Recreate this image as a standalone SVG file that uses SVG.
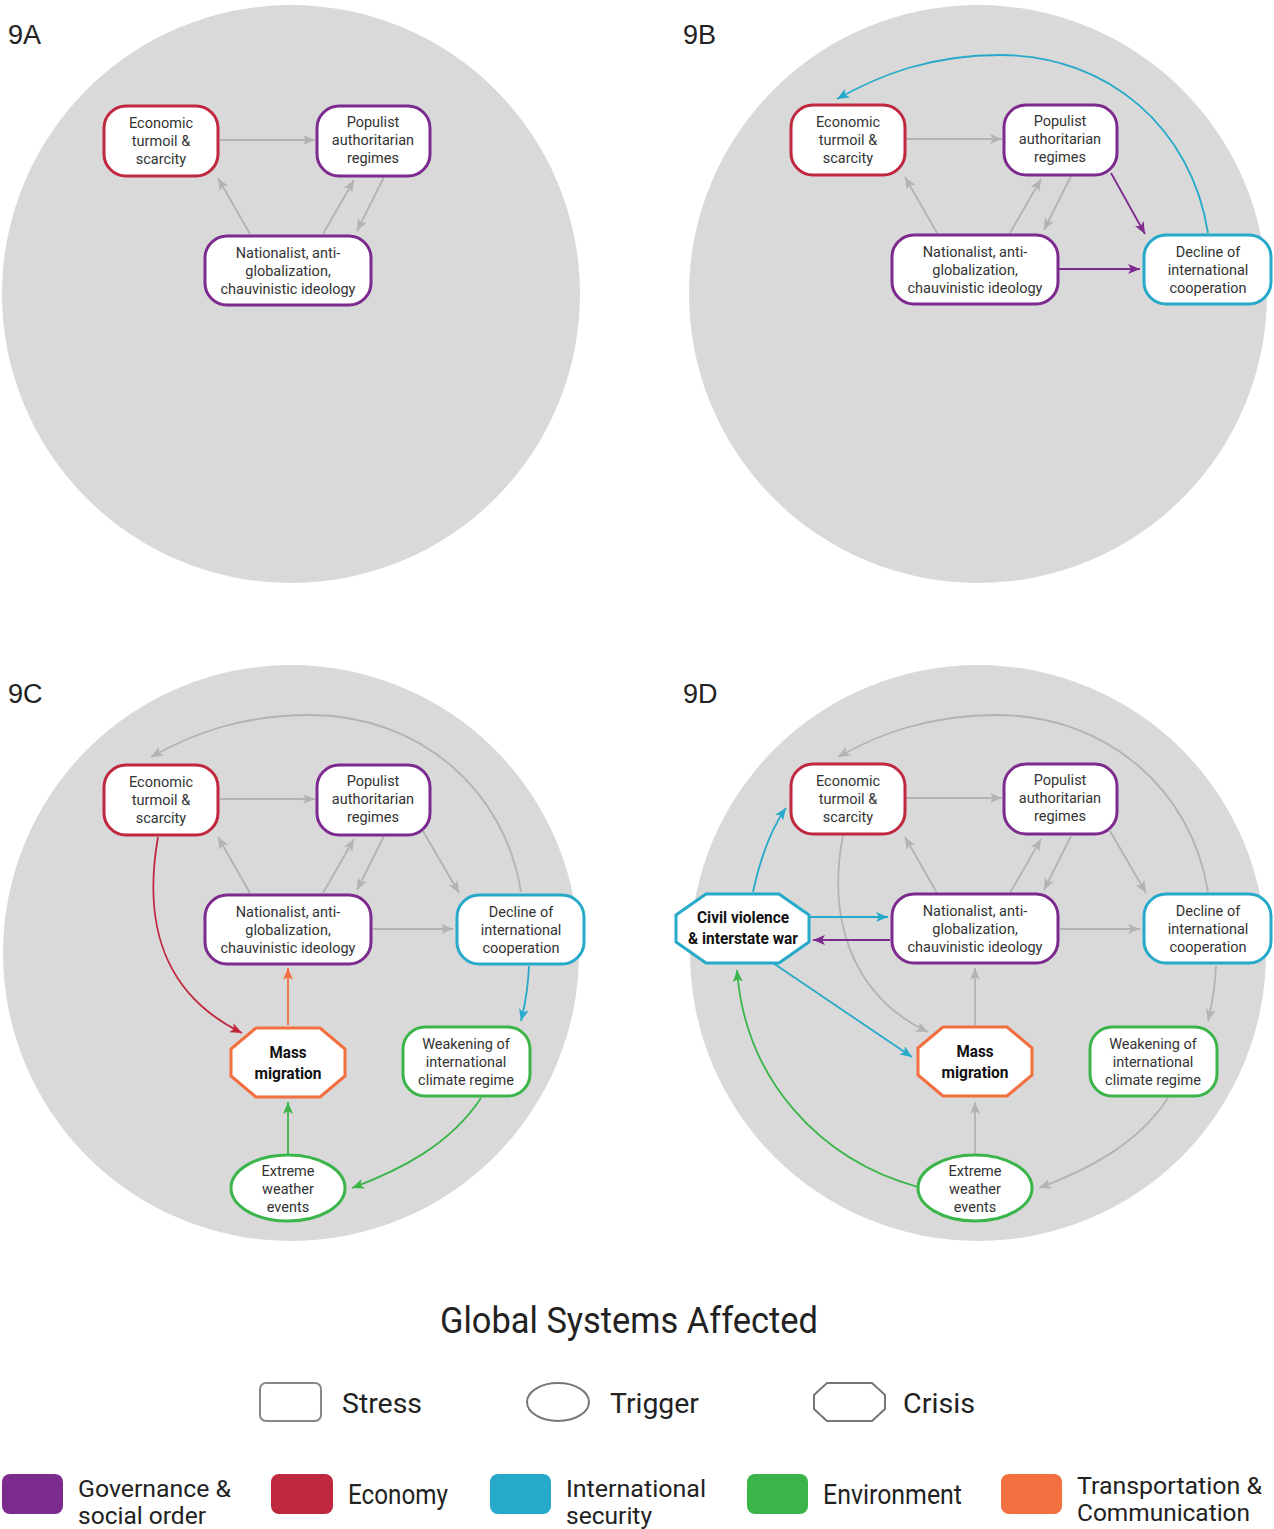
<svg xmlns="http://www.w3.org/2000/svg" width="1274" height="1529" viewBox="0 0 1274 1529">
<defs>
<style>
.bg{fill:#d9d9d9}
.nd{fill:#fff;stroke-width:3}
.pu{stroke:#7d2a8e}.rd{stroke:#c0283f}.bl{stroke:#27a9c9}.gn{stroke:#3bb54a}.or{stroke:#f26f3f}
.t{font-family:Roboto,"Liberation Sans",sans-serif;font-size:14.5px;fill:#333;text-anchor:middle}
.tb{font-family:Roboto,"Liberation Sans",sans-serif;font-size:17px;font-weight:bold;fill:#111;text-anchor:middle}
.pl{font-family:"Liberation Sans",Arial,sans-serif;font-size:27px;fill:#222}
.c{fill:none;stroke-width:1.8}
.cg{stroke:#b3b3b3}.cp{stroke:#7d2a8e}.cb{stroke:#27a9c9}.cr{stroke:#c0283f}.cgn{stroke:#3bb54a}.co{stroke:#f26f3f}
.lg{font-family:Roboto,"Liberation Sans",sans-serif;font-size:27px;fill:#222}
.lg2{font-family:Roboto,"Liberation Sans",sans-serif;font-size:24px;fill:#222}
</style>
<marker id="ag" viewBox="0 0 12 10" refX="12" refY="5" markerWidth="12" markerHeight="10" orient="auto" markerUnits="userSpaceOnUse"><path d="M0,0 L12,5 L0,10 L3,5 z" fill="#b3b3b3"/></marker>
<marker id="ap" viewBox="0 0 12 10" refX="12" refY="5" markerWidth="12" markerHeight="10" orient="auto" markerUnits="userSpaceOnUse"><path d="M0,0 L12,5 L0,10 L3,5 z" fill="#7d2a8e"/></marker>
<marker id="ab" viewBox="0 0 12 10" refX="12" refY="5" markerWidth="12" markerHeight="10" orient="auto" markerUnits="userSpaceOnUse"><path d="M0,0 L12,5 L0,10 L3,5 z" fill="#27a9c9"/></marker>
<marker id="ar" viewBox="0 0 12 10" refX="12" refY="5" markerWidth="12" markerHeight="10" orient="auto" markerUnits="userSpaceOnUse"><path d="M0,0 L12,5 L0,10 L3,5 z" fill="#c0283f"/></marker>
<marker id="agn" viewBox="0 0 12 10" refX="12" refY="5" markerWidth="12" markerHeight="10" orient="auto" markerUnits="userSpaceOnUse"><path d="M0,0 L12,5 L0,10 L3,5 z" fill="#3bb54a"/></marker>
<marker id="ao" viewBox="0 0 12 10" refX="12" refY="5" markerWidth="12" markerHeight="10" orient="auto" markerUnits="userSpaceOnUse"><path d="M0,0 L12,5 L0,10 L3,5 z" fill="#f26f3f"/></marker>
</defs>
<rect width="1274" height="1529" fill="#fff"/>

<!-- background circles -->
<g id="backgrounds">
<circle class="bg" cx="291" cy="294" r="289"/>
<circle class="bg" cx="978" cy="294" r="289"/>
<circle class="bg" cx="291" cy="953" r="288"/>
<circle class="bg" cx="978" cy="953" r="288"/>
</g>
<g id="panel-labels">
<text class="pl" x="8" y="44">9A</text>
<text class="pl" x="683" y="44">9B</text>
<text class="pl" x="8" y="703">9C</text>
<text class="pl" x="683" y="703">9D</text>
</g>

<!-- connectors -->
<g id="connectors">
<!-- 9A -->
<line class="c cg" x1="220" y1="140" x2="315" y2="140" marker-end="url(#ag)"/>
<line class="c cg" x1="250" y1="234" x2="218" y2="178" marker-end="url(#ag)"/>
<line class="c cg" x1="323" y1="234" x2="354" y2="180" marker-end="url(#ag)"/>
<line class="c cg" x1="384" y1="177" x2="357" y2="231" marker-end="url(#ag)"/>
<!-- 9B -->
<line class="c cg" x1="906" y1="139" x2="1002" y2="139" marker-end="url(#ag)"/>
<line class="c cg" x1="937" y1="233" x2="905" y2="177" marker-end="url(#ag)"/>
<line class="c cg" x1="1010" y1="233" x2="1041" y2="179" marker-end="url(#ag)"/>
<line class="c cg" x1="1071" y1="176" x2="1044" y2="230" marker-end="url(#ag)"/>
<line class="c cp" x1="1111" y1="173" x2="1145" y2="234" marker-end="url(#ap)"/>
<line class="c cp" x1="1059" y1="269" x2="1140" y2="269" marker-end="url(#ap)"/>
<path class="c cb" d="M1208,233 C1192,130 1110,55 1000,55 C930,55 880,75 837,99" marker-end="url(#ab)"/>
<!-- 9C -->
<line class="c cg" x1="220" y1="799" x2="315" y2="799" marker-end="url(#ag)"/>
<line class="c cg" x1="250" y1="893" x2="218" y2="837" marker-end="url(#ag)"/>
<line class="c cg" x1="323" y1="893" x2="354" y2="839" marker-end="url(#ag)"/>
<line class="c cg" x1="384" y1="836" x2="357" y2="890" marker-end="url(#ag)"/>
<line class="c cg" x1="423" y1="831" x2="459" y2="893" marker-end="url(#ag)"/>
<line class="c cg" x1="373" y1="929" x2="453" y2="929" marker-end="url(#ag)"/>
<path class="c cg" d="M521,892 C505,790 420,715 310,715 C240,715 190,735 151,757" marker-end="url(#ag)"/>
<path class="c cr" d="M158,837 C140,940 175,1000 242,1033" marker-end="url(#ar)"/>
<line class="c co" x1="288" y1="1025" x2="288" y2="968" marker-end="url(#ao)"/>
<path class="c cb" d="M529,966 C528,990 525,1005 521,1021" marker-end="url(#ab)"/>
<path class="c cgn" d="M481,1098 C450,1145 400,1170 352,1188" marker-end="url(#agn)"/>
<line class="c cgn" x1="288" y1="1155" x2="288" y2="1102" marker-end="url(#agn)"/>
<!-- 9D -->
<line class="c cg" x1="906" y1="798" x2="1002" y2="798" marker-end="url(#ag)"/>
<line class="c cg" x1="937" y1="893" x2="905" y2="837" marker-end="url(#ag)"/>
<line class="c cg" x1="1010" y1="893" x2="1041" y2="839" marker-end="url(#ag)"/>
<line class="c cg" x1="1071" y1="836" x2="1044" y2="890" marker-end="url(#ag)"/>
<line class="c cg" x1="1110" y1="831" x2="1146" y2="893" marker-end="url(#ag)"/>
<line class="c cg" x1="1060" y1="929" x2="1140" y2="929" marker-end="url(#ag)"/>
<path class="c cg" d="M1208,892 C1192,790 1107,715 997,715 C927,715 877,735 838,757" marker-end="url(#ag)"/>
<path class="c cg" d="M843,835 C825,930 860,1000 928,1032" marker-end="url(#ag)"/>
<line class="c cg" x1="975" y1="1025" x2="975" y2="968" marker-end="url(#ag)"/>
<path class="c cg" d="M1216,966 C1215,990 1212,1005 1208,1021" marker-end="url(#ag)"/>
<path class="c cg" d="M1168,1098 C1137,1145 1087,1170 1039,1188" marker-end="url(#ag)"/>
<line class="c cg" x1="975" y1="1155" x2="975" y2="1102" marker-end="url(#ag)"/>
<path class="c cgn" d="M918,1187 C820,1160 745,1080 737,970" marker-end="url(#agn)"/>
<path class="c cb" d="M753,892 C760,860 770,830 786,808" marker-end="url(#ab)"/>
<line class="c cb" x1="810" y1="917" x2="888" y2="917" marker-end="url(#ab)"/>
<line class="c cp" x1="890" y1="940" x2="813" y2="940" marker-end="url(#ap)"/>
<line class="c cb" x1="773" y1="963" x2="912" y2="1057" marker-end="url(#ab)"/>
</g>

<!-- 9A nodes -->
<g id="a-economic"><rect class="nd rd" x="104" y="106" width="114" height="70" rx="22"/><text class="t" x="161" y="128">Economic</text><text class="t" x="161" y="146">turmoil &amp;</text><text class="t" x="161" y="164">scarcity</text></g>
<g id="a-populist"><rect class="nd pu" x="317" y="106" width="113" height="70" rx="22"/><text class="t" x="373" y="127">Populist</text><text class="t" x="373" y="145">authoritarian</text><text class="t" x="373" y="163">regimes</text></g>
<g id="a-nationalist"><rect class="nd pu" x="205" y="236" width="166" height="69" rx="22"/><text class="t" x="288" y="258">Nationalist, anti-</text><text class="t" x="288" y="276">globalization,</text><text class="t" x="288" y="294">chauvinistic ideology</text></g>

<!-- 9B nodes -->
<g id="b-economic"><rect class="nd rd" x="791" y="105" width="114" height="70" rx="22"/><text class="t" x="848" y="127">Economic</text><text class="t" x="848" y="145">turmoil &amp;</text><text class="t" x="848" y="163">scarcity</text></g>
<g id="b-populist"><rect class="nd pu" x="1004" y="105" width="113" height="70" rx="22"/><text class="t" x="1060" y="126">Populist</text><text class="t" x="1060" y="144">authoritarian</text><text class="t" x="1060" y="162">regimes</text></g>
<g id="b-nationalist"><rect class="nd pu" x="892" y="235" width="166" height="69" rx="22"/><text class="t" x="975" y="257">Nationalist, anti-</text><text class="t" x="975" y="275">globalization,</text><text class="t" x="975" y="293">chauvinistic ideology</text></g>
<g id="b-decline"><rect class="nd bl" x="1144" y="235" width="127" height="69" rx="22"/><text class="t" x="1208" y="257">Decline of</text><text class="t" x="1208" y="275">international</text><text class="t" x="1208" y="293">cooperation</text></g>

<!-- 9C nodes -->
<g id="c-economic"><rect class="nd rd" x="104" y="765" width="114" height="70" rx="22"/><text class="t" x="161" y="787">Economic</text><text class="t" x="161" y="805">turmoil &amp;</text><text class="t" x="161" y="823">scarcity</text></g>
<g id="c-populist"><rect class="nd pu" x="317" y="765" width="113" height="70" rx="22"/><text class="t" x="373" y="786">Populist</text><text class="t" x="373" y="804">authoritarian</text><text class="t" x="373" y="822">regimes</text></g>
<g id="c-nationalist"><rect class="nd pu" x="205" y="895" width="166" height="69" rx="22"/><text class="t" x="288" y="917">Nationalist, anti-</text><text class="t" x="288" y="935">globalization,</text><text class="t" x="288" y="953">chauvinistic ideology</text></g>
<g id="c-decline"><rect class="nd bl" x="457" y="895" width="127" height="69" rx="22"/><text class="t" x="521" y="917">Decline of</text><text class="t" x="521" y="935">international</text><text class="t" x="521" y="953">cooperation</text></g>
<g id="c-mass"><polygon class="nd or" stroke-linejoin="round" points="256,1028 320,1028 345,1049 345,1076 320,1097 256,1097 231,1076 231,1049"/><text class="tb" x="288" y="1058" textLength="37" lengthAdjust="spacingAndGlyphs">Mass</text><text class="tb" x="288" y="1079" textLength="67" lengthAdjust="spacingAndGlyphs">migration</text></g>
<g id="c-weakening"><rect class="nd gn" x="403" y="1027" width="127" height="69" rx="22"/><text class="t" x="466" y="1049">Weakening of</text><text class="t" x="466" y="1067">international</text><text class="t" x="466" y="1085">climate regime</text></g>
<g id="c-extreme"><ellipse class="nd gn" cx="288" cy="1188" rx="57" ry="33"/><text class="t" x="288" y="1176">Extreme</text><text class="t" x="288" y="1194">weather</text><text class="t" x="288" y="1212">events</text></g>

<!-- 9D nodes -->
<g id="d-economic"><rect class="nd rd" x="791" y="764" width="114" height="70" rx="22"/><text class="t" x="848" y="786">Economic</text><text class="t" x="848" y="804">turmoil &amp;</text><text class="t" x="848" y="822">scarcity</text></g>
<g id="d-populist"><rect class="nd pu" x="1004" y="764" width="113" height="70" rx="22"/><text class="t" x="1060" y="785">Populist</text><text class="t" x="1060" y="803">authoritarian</text><text class="t" x="1060" y="821">regimes</text></g>
<g id="d-nationalist"><rect class="nd pu" x="892" y="894" width="166" height="69" rx="22"/><text class="t" x="975" y="916">Nationalist, anti-</text><text class="t" x="975" y="934">globalization,</text><text class="t" x="975" y="952">chauvinistic ideology</text></g>
<g id="d-decline"><rect class="nd bl" x="1144" y="894" width="127" height="69" rx="22"/><text class="t" x="1208" y="916">Decline of</text><text class="t" x="1208" y="934">international</text><text class="t" x="1208" y="952">cooperation</text></g>
<g id="d-civil"><polygon class="nd bl" stroke-linejoin="round" points="706,894 779,894 809,915 809,942 779,963 706,963 676,942 676,915"/><text class="tb" x="743" y="923" textLength="92" lengthAdjust="spacingAndGlyphs">Civil violence</text><text class="tb" x="743" y="944" textLength="110" lengthAdjust="spacingAndGlyphs">&amp; interstate war</text></g>
<g id="d-mass"><polygon class="nd or" stroke-linejoin="round" points="943,1027 1007,1027 1032,1048 1032,1075 1007,1096 943,1096 918,1075 918,1048"/><text class="tb" x="975" y="1057" textLength="37" lengthAdjust="spacingAndGlyphs">Mass</text><text class="tb" x="975" y="1078" textLength="67" lengthAdjust="spacingAndGlyphs">migration</text></g>
<g id="d-weakening"><rect class="nd gn" x="1090" y="1027" width="127" height="69" rx="22"/><text class="t" x="1153" y="1049">Weakening of</text><text class="t" x="1153" y="1067">international</text><text class="t" x="1153" y="1085">climate regime</text></g>
<g id="d-extreme"><ellipse class="nd gn" cx="975" cy="1188" rx="57" ry="33"/><text class="t" x="975" y="1176">Extreme</text><text class="t" x="975" y="1194">weather</text><text class="t" x="975" y="1212">events</text></g>

<!-- legend -->
<g id="legend">
<text x="440" y="1333" font-family="Roboto,'Liberation Sans',sans-serif" font-size="36" fill="#222" textLength="378" lengthAdjust="spacingAndGlyphs">Global Systems Affected</text>
<rect x="260" y="1383" width="61" height="38" rx="6" fill="#fff" stroke="#888" stroke-width="2"/>
<text class="lg" x="342" y="1413" textLength="80" lengthAdjust="spacingAndGlyphs">Stress</text>
<ellipse cx="558" cy="1402" rx="31" ry="19" fill="#fff" stroke="#777" stroke-width="2"/>
<text class="lg" x="610" y="1413" textLength="89" lengthAdjust="spacingAndGlyphs">Trigger</text>
<polygon points="827,1383 872,1383 885,1395 885,1409 872,1421 827,1421 814,1409 814,1395" fill="#fff" stroke="#777" stroke-width="2"/>
<text class="lg" x="903" y="1413" textLength="72" lengthAdjust="spacingAndGlyphs">Crisis</text>

<rect x="2" y="1474" width="61" height="40" rx="8" fill="#7d2a8e"/>
<text class="lg2" x="78" y="1497" textLength="153" lengthAdjust="spacingAndGlyphs">Governance &amp;</text><text class="lg2" x="78" y="1524" textLength="128" lengthAdjust="spacingAndGlyphs">social order</text>
<rect x="271" y="1474" width="62" height="40" rx="8" fill="#c0283f"/>
<text class="lg" x="348" y="1504" textLength="100" lengthAdjust="spacingAndGlyphs">Economy</text>
<rect x="490" y="1474" width="61" height="40" rx="8" fill="#27a9c9"/>
<text class="lg2" x="566" y="1497" textLength="140" lengthAdjust="spacingAndGlyphs">International</text><text class="lg2" x="566" y="1524" textLength="86" lengthAdjust="spacingAndGlyphs">security</text>
<rect x="747" y="1474" width="61" height="40" rx="8" fill="#3bb54a"/>
<text class="lg" x="823" y="1504" textLength="139" lengthAdjust="spacingAndGlyphs">Environment</text>
<rect x="1001" y="1474" width="61" height="40" rx="8" fill="#f26f3f"/>
<text class="lg2" x="1077" y="1494" textLength="185" lengthAdjust="spacingAndGlyphs">Transportation &amp;</text><text class="lg2" x="1077" y="1521" textLength="173" lengthAdjust="spacingAndGlyphs">Communication</text>
</g>
</svg>
